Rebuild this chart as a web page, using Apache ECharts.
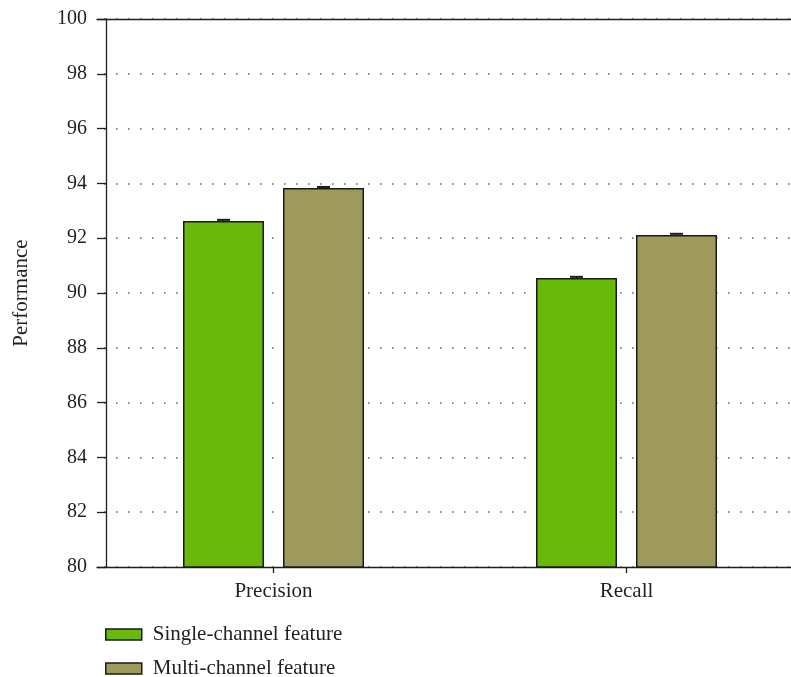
<!DOCTYPE html>
<html>
<head>
<meta charset="utf-8">
<script src="https://cdn.jsdelivr.net/npm/echarts@6/dist/echarts.min.js"></script>
<style>
html,body{margin:0;padding:0;background:#fff;overflow:hidden;width:791px;height:677px;}
#chart{width:830px;height:677px;}
</style>
</head>
<body>
<div id="chart"></div>
<script>
const categories = ['Precision', 'Recall'];
const seriesNames = ['Single-channel feature', 'Multi-channel feature'];
const singleValues = [92.63, 90.55];
const multiValues = [93.83, 92.12];
const singleErrors = [0.04, 0.04];
const multiErrors = [0.04, 0.04];
const yTicks = [80, 82, 84, 86, 88, 90, 92, 94, 96, 98, 100];

const FONT = '"Liberation Serif", "DejaVu Serif", serif';
const TXT = '#231f20';
const BAR_W = 81;
const BAR_GAP = 19;

const chart = echarts.init(document.getElementById('chart'), null, {renderer: 'canvas'});

function errorSeries(values, errors, seriesIdx) {
  const shift = (seriesIdx === 0 ? -1 : 1) * (BAR_W + BAR_GAP) / 2;
  return {
    type: 'custom',
    name: seriesNames[seriesIdx] + ' err',
    xAxisIndex: 0, yAxisIndex: 0,
    silent: true,
    z: 5,
    data: values.map((v, i) => [i, v, errors[i]]),
    renderItem: function (params, api) {
      const c = api.value(0);
      const v = api.value(1);
      const e = api.value(2);
      const top = api.coord([c, v + e]);
      const base = api.coord([c, v]);
      const x = top[0] + shift;
      return {
        type: 'group',
        children: [
          {type: 'line', shape: {x1: x, y1: base[1], x2: x, y2: top[1]}, style: {stroke: '#1a1a1a', lineWidth: 1.2}},
          {type: 'line', shape: {x1: x - 6.5, y1: top[1], x2: x + 6.5, y2: top[1]}, style: {stroke: '#1a1a1a', lineWidth: 2}}
        ]
      };
    }
  };
}

function legendFor(idx, top) {
  return {
    data: [{name: seriesNames[idx], icon: 'rect'}],
    orient: 'vertical',
    left: 100,
    top: top,
    itemWidth: 36,
    itemHeight: 11,
    textStyle: {fontFamily: FONT, fontSize: 21, color: TXT, padding: [0, 0, 0, 6]},
    itemStyle: {borderColor: '#1a1a1a', borderWidth: 1.5}
  };
}

const option = {
  animation: false,
  backgroundColor: '#fff',
  textStyle: {fontFamily: FONT, color: TXT},
  grid: {left: 97, top: 19, width: 706, height: 548, containLabel: false},
  legend: [legendFor(0, 619), legendFor(1, 653)],
  xAxis: [
    {
      type: 'category',
      data: categories,
      position: 'bottom',
      axisLine: {show: true, lineStyle: {color: TXT, width: 1.3}},
      axisTick: {show: true, alignWithLabel: true, length: 6, lineStyle: {color: TXT, width: 1.3}},
      axisLabel: {fontFamily: FONT, fontSize: 21, color: TXT, margin: 14},
      splitLine: {show: false}
    },
    {
      type: 'category',
      data: categories,
      position: 'top',
      axisLine: {show: true, lineStyle: {color: TXT, width: 1.3}},
      axisTick: {show: false},
      axisLabel: {show: false},
      splitLine: {show: false}
    }
  ],
  yAxis: {
    type: 'value',
    min: yTicks[0],
    max: yTicks[yTicks.length - 1],
    interval: 2,
    offset: -9,
    name: 'Performance',
    nameLocation: 'middle',
    nameRotate: 90,
    nameGap: 74,
    nameTextStyle: {fontFamily: FONT, fontSize: 21, color: TXT},
    axisLine: {show: true, lineStyle: {color: TXT, width: 1.3}},
    axisTick: {show: true, length: 9, lineStyle: {color: TXT, width: 1.3}},
    axisLabel: {fontFamily: FONT, fontSize: 20, color: TXT, margin: 19},
    splitLine: {show: true, lineStyle: {color: '#666', width: 1.6, type: [1.6, 10.4], dashOffset: 5}}
  },
  series: [
    {
      name: seriesNames[0],
      type: 'bar',
      data: singleValues,
      barWidth: BAR_W,
      barGap: (BAR_GAP / BAR_W * 100) + '%',
      itemStyle: {color: '#68b90a', borderColor: '#1a1a1a', borderWidth: 1.5}
    },
    {
      name: seriesNames[1],
      type: 'bar',
      data: multiValues,
      barWidth: BAR_W,
      barGap: (BAR_GAP / BAR_W * 100) + '%',
      itemStyle: {color: '#9e9a5d', borderColor: '#1a1a1a', borderWidth: 1.5}
    },
    errorSeries(singleValues, singleErrors, 0),
    errorSeries(multiValues, multiErrors, 1)
  ]
};
chart.setOption(option);
</script>
</body>
</html>
